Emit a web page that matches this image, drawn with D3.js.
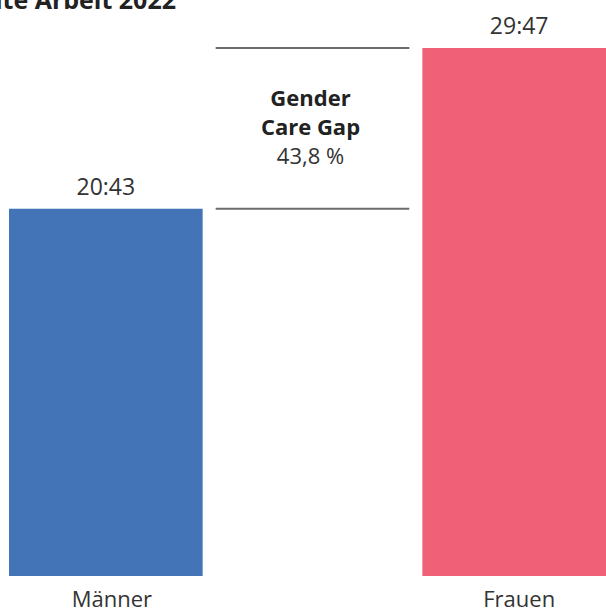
<!DOCTYPE html>
<html><head><meta charset="utf-8">
<script src="https://cdn.jsdelivr.net/npm/d3@7"></script>
<style>
html,body{margin:0;padding:0;background:#fff;overflow:hidden;}
text{font-family:"Open Sans","Noto Sans",sans-serif;}
</style></head>
<body>
<svg id="c" width="606" height="610"></svg>
<script>
const title = "Unbezahlte Arbeit 2022";
const categories = ["Männer", "Frauen"];
const valueLabels = ["20:43", "29:47"];
const hours = [20 + 43/60, 29 + 47/60];
const colors = ["#4474b8", "#f06076"];
const gapTitle = ["Gender", "Care Gap"];
const gapValue = "43,8 %";

const svg = d3.select("#c");
const slots = [categories[0], "gap", categories[1]];
const x = d3.scaleBand().domain(slots).range([9, 616]).paddingInner(0.063).paddingOuter(0);
const y = d3.scaleLinear().domain([0, d3.max(hours)]).range([576, 48]);

svg.append("text").attr("x", 176).attr("y", 9).attr("text-anchor", "end")
  .attr("font-size", 25).attr("font-weight", "bold").attr("fill", "#222").text(title);

const data = categories.map((c, i) => ({c, v: hours[i], l: valueLabels[i], col: colors[i]}));

svg.selectAll("rect.bar").data(data).join("rect").attr("class", "bar")
  .attr("x", d => x(d.c)).attr("width", x.bandwidth())
  .attr("y", d => y(d.v)).attr("height", d => y(0) - y(d.v))
  .attr("fill", d => d.col);

svg.selectAll("text.val").data(data).join("text").attr("class", "val")
  .attr("x", d => x(d.c) + x.bandwidth()/2).attr("y", d => y(d.v) - 14)
  .attr("text-anchor", "middle").attr("font-size", 23).attr("fill", "#333").text(d => d.l);

const xAxis = d3.axisBottom(x).tickSize(0).tickPadding(0).tickValues(categories);
const ax = svg.append("g").attr("transform", `translate(0,${y(0)})`).call(xAxis);
ax.select(".domain").remove();
ax.selectAll("text").attr("font-size", 22).attr("fill", "#333").attr("dy", null).attr("y", 31)
  .attr("dx", (d, i) => i === 0 ? 6 : 0)
  .style("font-family", "'Open Sans','Noto Sans',sans-serif");

// gap annotation lines
const gx = x("gap");
[hours[1], hours[0]].forEach(v => {
  svg.append("line").attr("x1", gx).attr("x2", gx + x.bandwidth())
    .attr("y1", y(v)).attr("y2", y(v)).attr("stroke", "#6b6b6b").attr("stroke-width", 2);
});
const cx = gx + x.bandwidth()/2 - 2;
gapTitle.forEach((t, i) => {
  svg.append("text").attr("x", cx).attr("y", 106 + i*29).attr("text-anchor", "middle")
    .attr("font-size", 22).attr("font-weight", "bold").attr("fill", "#222").text(t);
});
svg.append("text").attr("x", cx).attr("y", 164).attr("text-anchor", "middle")
  .attr("font-size", 22).attr("fill", "#333").text(gapValue);
</script>
</body></html>
